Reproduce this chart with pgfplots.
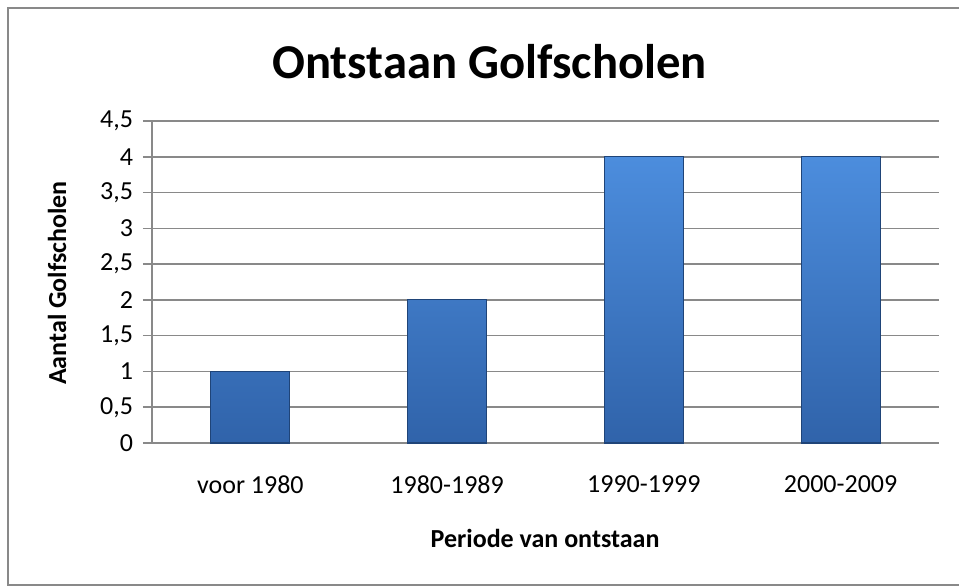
\documentclass[border=0pt]{standalone}
\usepackage{pgfplots}
\pgfplotsset{compat=1.18}
\usepackage{fontspec}
\setmainfont{Carlito}
\definecolor{gridgray}{HTML}{898989}
\definecolor{bartop}{HTML}{4C8DDD}
\definecolor{barbot}{HTML}{3063AA}
\definecolor{baredge}{HTML}{1F4478}
\begin{document}
\begin{tikzpicture}[x=0.75pt,y=0.75pt]
\useasboundingbox (0,0) rectangle (959,587);
\draw[color=gridgray, line width=1.2pt] (8,2) rectangle (975,579);
\begin{axis}[
  at={(114pt,108pt)}, anchor=south west,
  width=590.25pt, height=241.5pt, scale only axis,
  xmin=-0.5, xmax=3.5, ymin=0, ymax=4.5,
  axis lines*=left,
  axis line style={gridgray, line width=1.1pt},
  xtick=data,
  xticklabels={voor 1980,1980-1989,1990-1999,2000-2009},
  x tick style={draw=none},
  ytick={0,0.5,1,1.5,2,2.5,3,3.5,4,4.5},
  y tick style={gridgray, line width=1.1pt},
  tick align=outside, major tick length=6.75pt,
  ymajorgrids, grid style={gridgray, line width=1.1pt},
  /pgf/number format/.cd, use comma, fixed, assume math mode=true,
  /pgfplots/.cd,
  tick label style={font=\fontsize{19.5}{23}\selectfont, black},
  xticklabel style={yshift=-14pt},
  yticklabel style={xshift=-4pt},
  title={\textbf{Ontstaan Golfscholen}},
  title style={font=\fontsize{36.5}{42}\selectfont, at={(axis description cs:0.429,1.16)}, anchor=center},
  xlabel={\textbf{Periode van ontstaan}},
  xlabel style={font=\fontsize{19.5}{23}\selectfont, at={(axis description cs:0.4994,-0.295)}, anchor=center},
  ylabel={\textbf{Aantal Golfscholen}},
  ylabel style={font=\fontsize{19.5}{23}\selectfont, at={(axis description cs:-0.1207,0.497)}, anchor=center, rotate=0},
  ybar, bar width=59.25pt,
]
\addplot[draw=baredge, line width=0.8pt, top color=bartop, bottom color=barbot] coordinates {(0,1) (1,2) (2,4) (3,4)};
\end{axis}
\end{tikzpicture}
\end{document}
